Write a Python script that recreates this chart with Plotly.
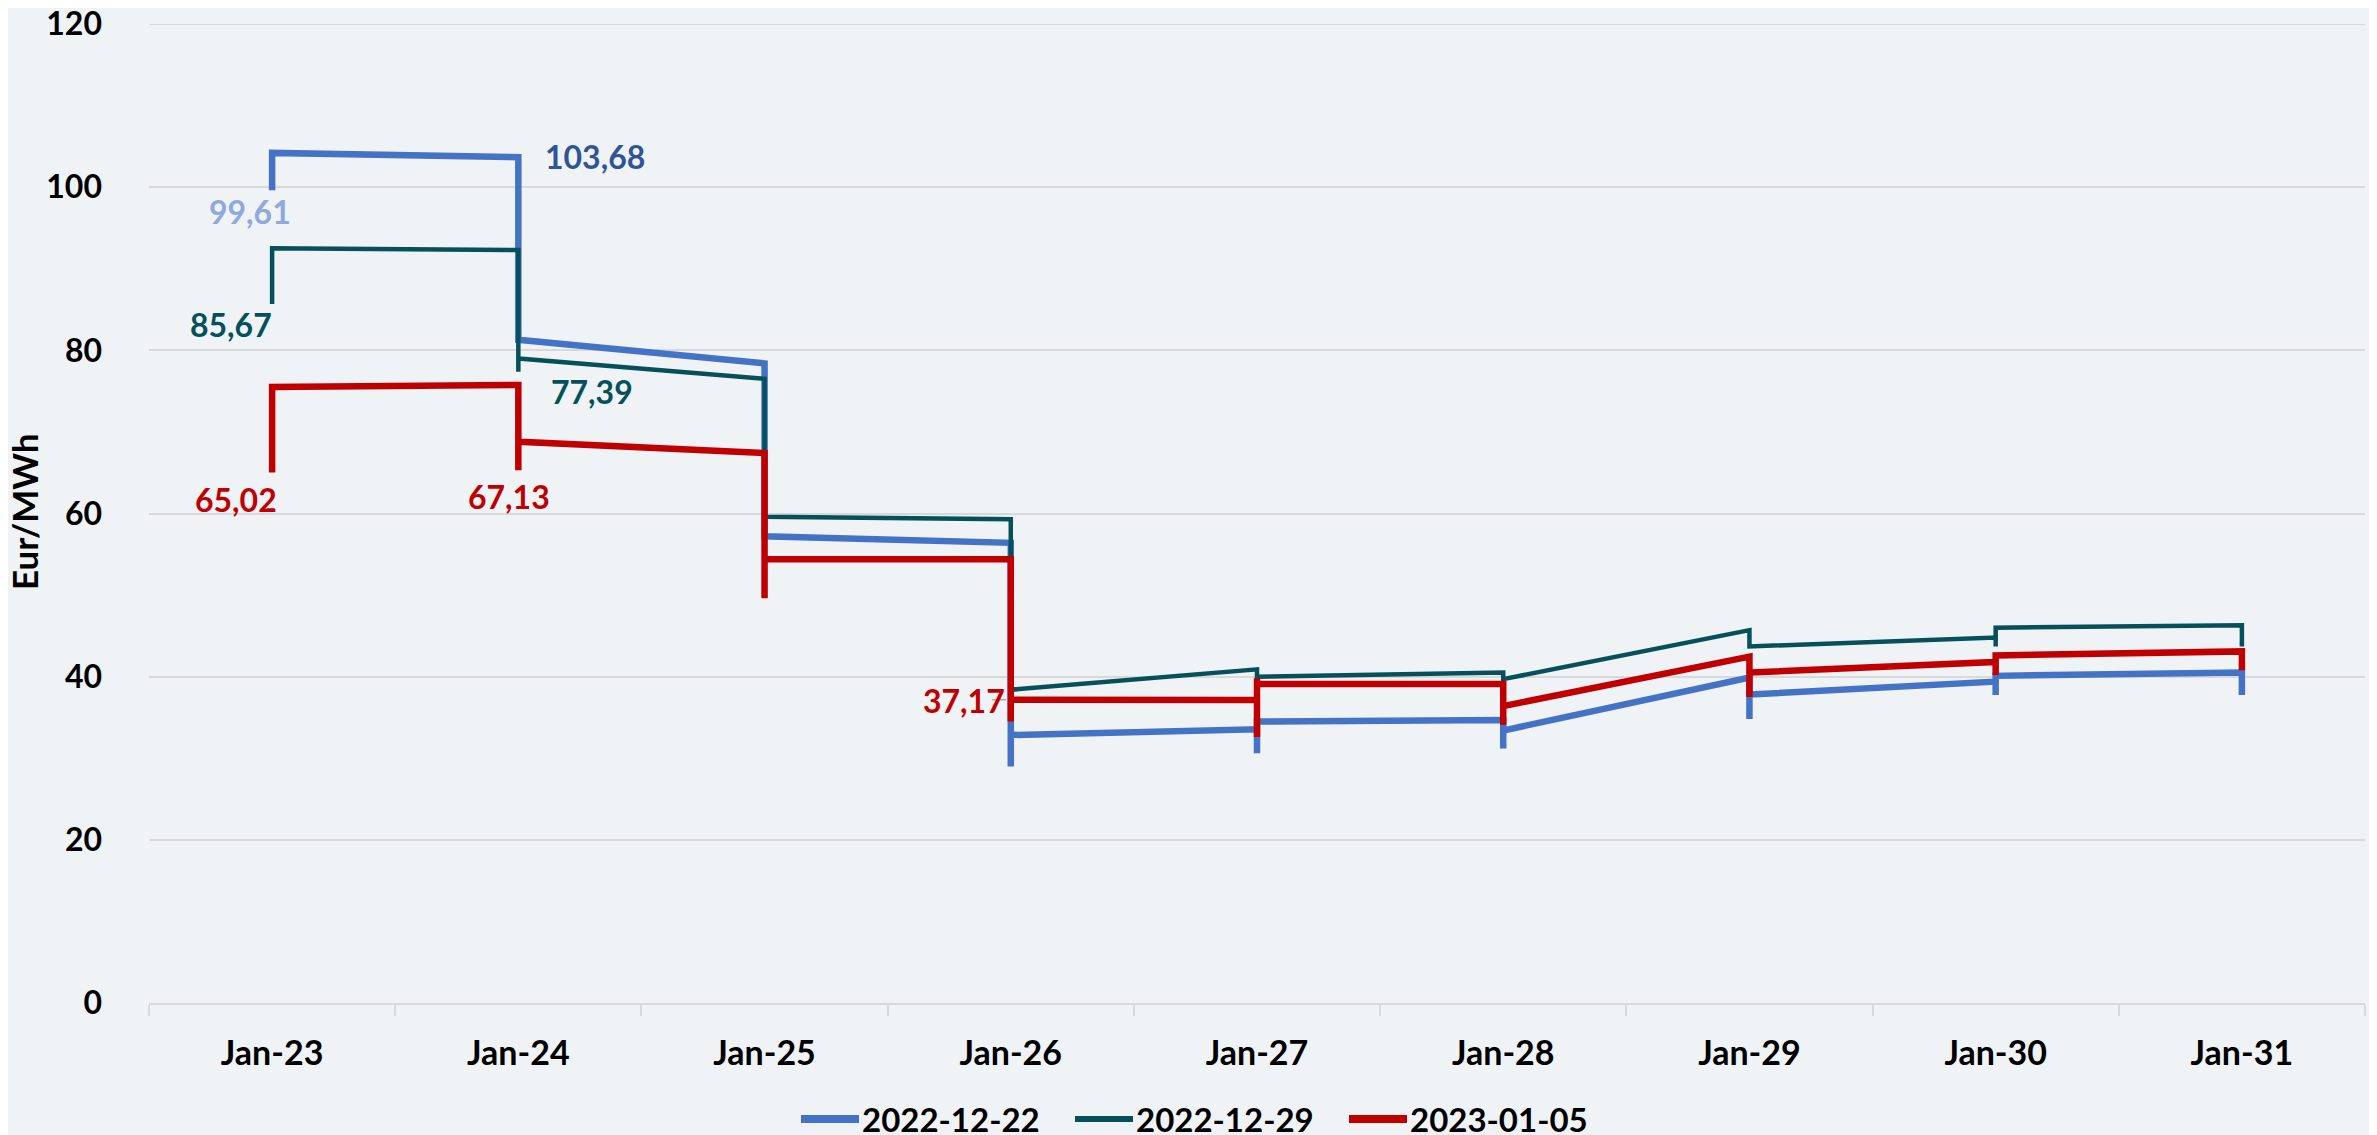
import plotly.graph_objects as go

categories = ["Jan-23", "Jan-24", "Jan-25", "Jan-26", "Jan-27", "Jan-28", "Jan-29", "Jan-30", "Jan-31"]

# values visited at each category (several points share a category -> vertical segments)
vals_1222 = [[99.61, 104.2], [103.68, 81.3], [78.4, 57.2], [56.4, 29.0, 32.85],
             [33.55, 30.6, 34.5], [34.7, 31.2, 33.4], [39.9, 34.8, 37.8],
             [39.4, 37.75, 40.1], [40.5, 37.75]]
vals_1229 = [[85.67, 92.5], [92.3, 77.39, 79.0], [76.5, 59.6], [59.3, 38.4],
             [40.9, 40.0], [40.5, 39.7], [45.7, 43.7], [44.8, 43.7, 46.0],
             [46.3, 43.7]]
vals_0105 = [[65.02, 75.5], [75.75, 65.3, 68.8], [67.4, 49.6, 54.4], [54.4, 34.5, 37.17],
             [37.15, 32.6, 39.8, 39.1], [39.1, 34.1, 36.4], [42.45, 37.5, 40.5],
             [41.8, 40.2, 42.6], [43.1, 40.8]]

series_names = ["2022-12-22", "2022-12-29", "2023-01-05"]
series_vals = [vals_1222, vals_1229, vals_0105]
series_colors = ["#4472C4", "#05505A", "#C00000"]
series_widths = [6.5, 4.5, 6.5]

y_ticks = [0, 20, 40, 60, 80, 100, 120]

# data labels: text, category offset, y, colour
label_texts = ["99,61", "103,68", "85,67", "77,39", "65,02", "67,13", "37,17"]
label_cats = [0, 1, 0, 1, 0, 1, 3]
label_dx = [-0.09, 0.31, -0.167, 0.30, -0.146, -0.037, -0.19]
label_y = [97.0, 103.8, 83.2, 75.0, 61.7, 62.1, 37.1]
label_colors = ["#8EA9DB", "#2F5597", "#05505A", "#05505A", "#C00000", "#C00000", "#C00000"]

FONT = "Lato"
BG = "#EFF3F6"
GRID = "#D9D9D9"

W, H = 2377, 1135
OFF = 8  # page body margin offset of the figure div
ML, MR, MT, MB = 149 - OFF, 12 + OFF, 24 - OFF, 132 + OFF
PW, PH = W - ML - MR, H - MT - MB


def px_to_paper_x(px):
    # px measured in the window (screen) coordinates
    return (px - OFF - ML) / PW


def px_to_paper_y(py):
    return (H - MB - (py - OFF)) / PH


fig = go.Figure()
for name, vals, col, w in zip(series_names, series_vals, series_colors, series_widths):
    xs, ys = [], []
    for cat, group in zip(categories, vals):
        for v in group:
            xs.append(cat)
            ys.append(v)
    fig.add_trace(go.Scatter(x=xs, y=ys, mode="lines", name=name, showlegend=False,
                             line=dict(color=col, width=w), hoverinfo="skip"))

for t, c, dx, y, col in zip(label_texts, label_cats, label_dx, label_y, label_colors):
    fig.add_annotation(x=c + dx, y=y, text=t, showarrow=False,
                       font=dict(family=FONT, size=32, color=col, weight="bold"),
                       xanchor="center", yanchor="middle")

# small leader line for the 37,17 label
fig.add_shape(type="line", x0=3 - 0.075, x1=3 - 0.02, y0=37.17, y1=37.17,
              line=dict(color="#A6A6A6", width=1.5))

# top gridline (at the plot edge)
fig.add_shape(type="line", xref="paper", x0=0, x1=1, y0=y_ticks[-1], y1=y_ticks[-1],
              line=dict(color=GRID, width=2), layer="below")

# legend drawn as line samples + texts (long Excel-style line samples)
leg_y = px_to_paper_y(1119)
for i, (name, col, w) in enumerate(zip(series_names, series_colors, series_widths)):
    x0 = 801 + i * 274
    fig.add_shape(type="line", xref="paper", yref="paper",
                  x0=px_to_paper_x(x0), x1=px_to_paper_x(x0 + 58), y0=leg_y, y1=leg_y,
                  line=dict(color=col, width=w + 1.5))
    fig.add_annotation(xref="paper", yref="paper", x=px_to_paper_x(x0 + 59), y=leg_y,
                       text=name, showarrow=False, xanchor="left", yanchor="middle",
                       font=dict(family=FONT, size=33, color="#000000", weight="bold"))

fig.add_annotation(xref="paper", yref="paper", x=px_to_paper_x(24), y=px_to_paper_y(512),
                   text="Eur/MWh", textangle=-90, showarrow=False,
                   xanchor="center", yanchor="middle",
                   font=dict(family=FONT, size=35, color="#000000", weight="bold"))

fig.update_layout(
    width=W, height=H,
    paper_bgcolor=BG, plot_bgcolor=BG,
    margin=dict(l=ML, r=MR, t=MT, b=MB, autoexpand=False),
    showlegend=False,
    font=dict(family=FONT),
)
fig.update_xaxes(type="category", categoryorder="array", categoryarray=categories,
                 range=[-0.5, 8.5], showgrid=False, showline=True, linecolor=GRID,
                 linewidth=2, ticks="outside", tickson="boundaries", ticklen=11,
                 tickcolor=GRID, tickwidth=2, ticklabelstandoff=19, automargin=False,
                 tickfont=dict(family=FONT, size=34, color="#000000", weight="bold"),
                 zeroline=False)
fig.update_yaxes(range=[0, 120], tickvals=y_ticks, ticklabeloverflow="allow",
                 showgrid=True, gridcolor=GRID, gridwidth=2, zeroline=False,
                 showline=False, ticks="", ticklabelstandoff=46, automargin=False,
                 tickfont=dict(family=FONT, size=32, color="#000000", weight="bold"))

fig.write_html("out.html")
